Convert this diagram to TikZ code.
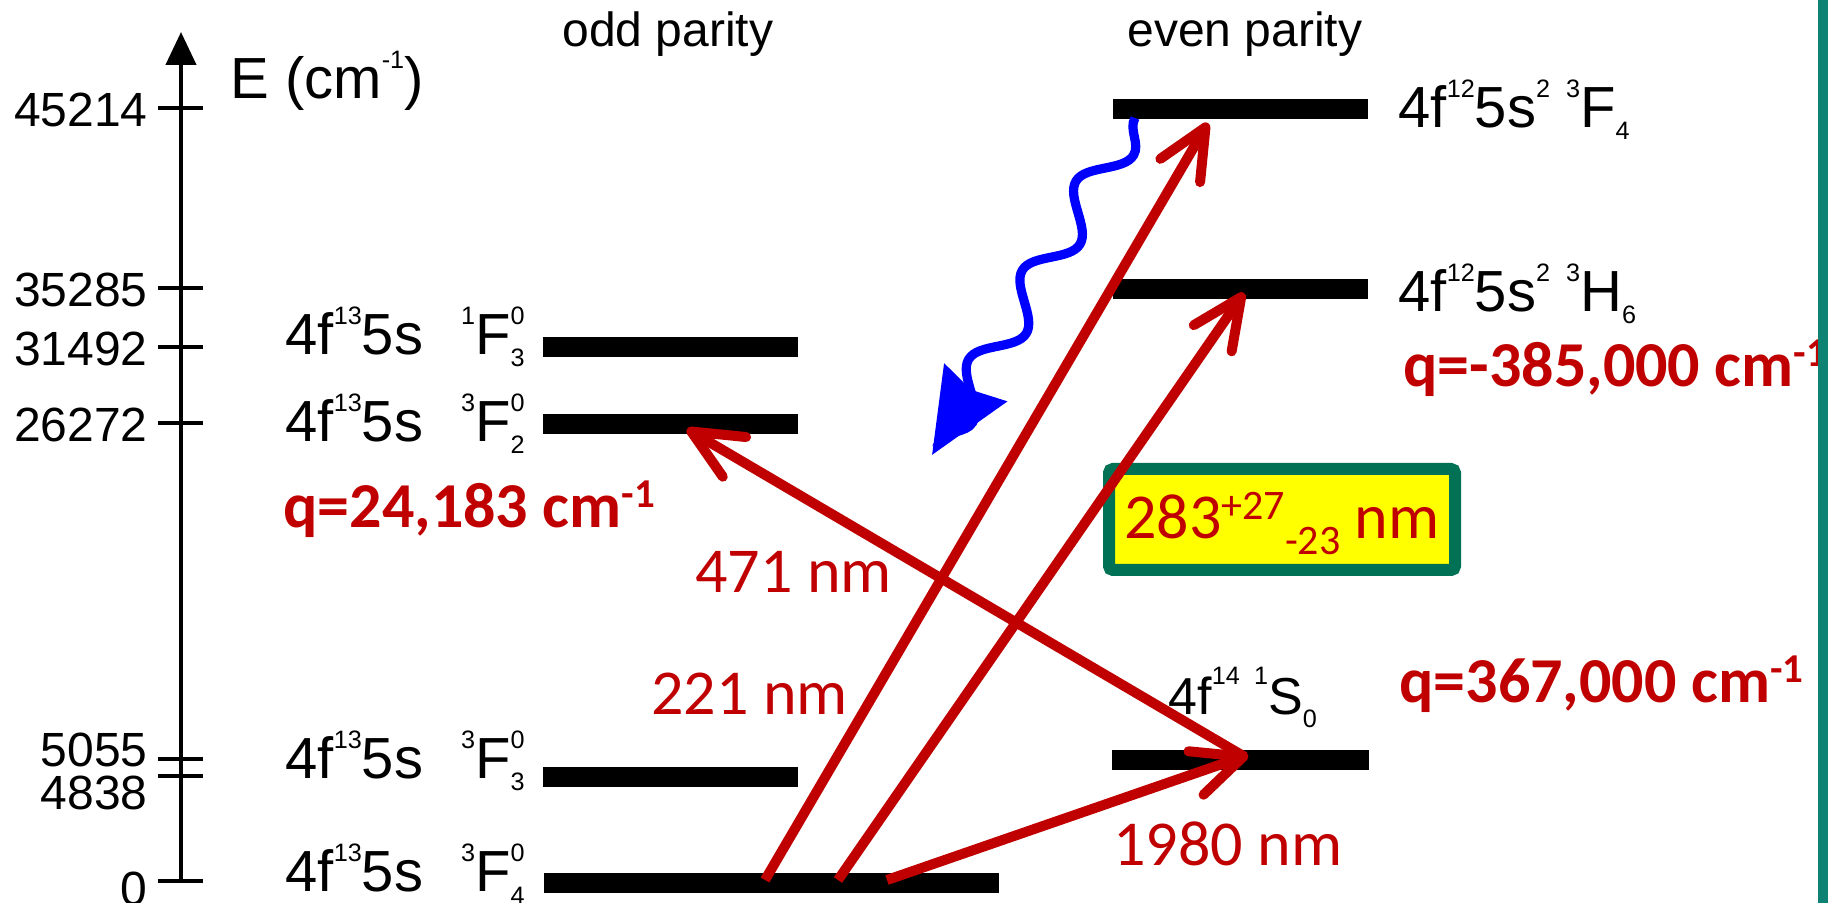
\documentclass[tikz,border=0pt]{standalone}
\usepackage{fontspec}
\setmainfont{Liberation Sans}
\newfontfamily\calibri{Carlito}
\usetikzlibrary{arrows.meta,decorations.pathmorphing}
\definecolor{rot}{HTML}{C00000}
\definecolor{blau}{HTML}{0000FF}
\definecolor{gelb}{HTML}{FFFF00}
\definecolor{petrol}{HTML}{007155}
\definecolor{tuerkis}{HTML}{0E8374}
\newcommand{\hoch}[1]{\raisebox{15pt}{\fontsize{12.6}{13}\selectfont #1}}
\newcommand{\tief}[1]{\raisebox{-6pt}{\fontsize{12.6}{13}\selectfont #1}}
\newcommand{\hochtief}[2]{\rlap{\hoch{#1}}\tief{#2}}
\newcommand{\qhoch}[1]{\raisebox{10pt}{\fontsize{20.5}{21}\selectfont #1}}
\newcommand{\khoch}[1]{\raisebox{9.5pt}{\fontsize{21}{21}\selectfont #1}}
\newcommand{\ktief}[1]{\raisebox{-8pt}{\fontsize{21}{21}\selectfont #1}}
\tikzset{
  achse/.style={line width=2.2pt,-{Triangle[length=16.5pt,width=15pt]}},
  strich/.style={line width=2.2pt},
  niveau/.style={line width=10pt},
  pfeil/.style={rot,line width=5pt,-{Straight Barb[length=25pt,width=23pt,round]}},
  welle/.style={blau,line width=4.6pt,-{Stealth[length=42pt,width=36pt,inset=4pt]},
    decorate,decoration={snake,amplitude=9pt,segment length=52pt,post length=8pt}},
  wert/.style={anchor=base east,inner sep=0pt,font=\fontsize{24}{24}\selectfont},
  titel/.style={anchor=base,inner sep=0pt,font=\fontsize{24}{24}\selectfont},
  term/.style={anchor=base west,inner sep=0pt,font=\fontsize{29}{29}\selectfont},
  qwert/.style={anchor=base west,inner sep=0pt,rot,font=\calibri\bfseries\fontsize{32}{32}\selectfont},
  nm/.style={anchor=base west,inner sep=0pt,rot,font=\calibri\fontsize{32}{32}\selectfont},
  kasten/.style={draw=petrol,fill=gelb,line width=6pt,rounded corners=2pt,inner sep=0pt,
    minimum width=173pt,minimum height=50.5pt,text height=25pt,text depth=5.5pt,
    text=rot,font=\calibri\fontsize{32}{32}\selectfont},
}
\begin{document}
\begin{tikzpicture}[x=0.5pt,y=-0.5pt]
  \useasboundingbox (0,0) rectangle (1828,903);
  \coordinate (e0) at (181,881); \coordinate (etop) at (181,32);
  \draw[achse] (e0) -- (etop);
  \foreach \y/\b/\w in {108/127/45214,288/307/35285,347/366/31492,423/442/26272,
                        759/767/5055,776/809/4838,881/905/0}{
    \draw[strich] (158,\y) -- (203,\y);
    \node[wert] (w\w) at (148,\b) {\w};
  }
  \node[term] (einheit) at (230,99) {E (cm\hoch{-1})};
  \node[titel] (ungerade) at (668,47) {odd parity};
  \node[titel] (gerade) at (1245,47) {even parity};
  % niveaus
  \draw[niveau] (543,347) -- (798,347);
  \draw[niveau] (543,424) -- (798,424);
  \draw[niveau] (543,777) -- (798,777);
  \draw[niveau] (544,883) -- (999,883);
  \draw[niveau] (1113,109) -- (1368,109);
  \draw[niveau] (1113,289) -- (1368,289);
  \draw[niveau] (1112,760) -- (1369,760);
  \node[term] (t1) at (285,355) {4f\hoch{13}5s\hspace{19pt}\hoch{1}F\hochtief{0}{3}};
  \node[term] (t2) at (285,442) {4f\hoch{13}5s\hspace{19pt}\hoch{3}F\hochtief{0}{2}};
  \node[term] (t3) at (285,778) {4f\hoch{13}5s\hspace{19pt}\hoch{3}F\hochtief{0}{3}};
  \node[term] (t4) at (285,892) {4f\hoch{13}5s\hspace{19pt}\hoch{3}F\hochtief{0}{4}};
  \node[term] (t5) at (1398,128) {4f\hoch{12}5s\hoch{2} \hoch{3}F\tief{4}};
  \node[term] (t6) at (1398,312) {4f\hoch{12}5s\hoch{2} \hoch{3}H\tief{6}};
  \node[term,font=\fontsize{26}{26}\selectfont] (t7) at (1168,715) {4f\hoch{14} \hoch{1}S\tief{0}};
  \node[qwert] (q1) at (283,528) {q=24,183 cm\qhoch{-1}};
  \node[qwert] (q2) at (1403,387) {q=-385,000 cm\qhoch{-1}};
  \node[qwert] (q3) at (1399,703) {q=367,000 cm\qhoch{-1}};
  \node[kasten] (wl) at (1282,519.5) {283\khoch{+27}\ktief{-23} nm};
  % uebergaenge
  \coordinate (g1) at (765,880); \coordinate (g2) at (838,880); \coordinate (g3) at (887,880);
  \coordinate (f2) at (687,429); \coordinate (f4) at (1208,123);
  \coordinate (h6) at (1244,293); \coordinate (s0) at (1248,755);
  \coordinate (s0a) at (1245,757);
  \coordinate (f4a) at (1135,118); \coordinate (blauende) at (932,455);
  \draw[pfeil] (s0a) -- (f2);
  \draw[pfeil] (g1) -- (f4);
  \draw[pfeil] (g2) -- (h6);
  \draw[pfeil] (g3) -- (s0);
  \draw[welle] (f4a) -- (blauende);
  \node[nm] (l471) at (695,593) {471 nm};
  \node[nm] (l221) at (651,715) {221 nm};
  \node[nm] (l1980) at (1113,865) {1980 nm};
  \fill[tuerkis] (1818,0) rectangle (1828,903);
\end{tikzpicture}
\end{document}
